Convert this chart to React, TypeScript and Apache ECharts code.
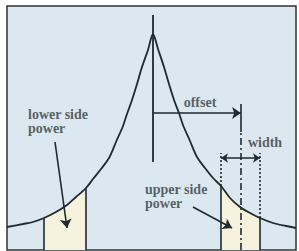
import React, { useEffect, useRef } from "react";
import * as echarts from "echarts";

// Curve (frequency offset from carrier, power height)
const curveX = [-146, -130, -120, -109, -97, -86, -77, -67, -60, -52, -44, -37, -30, -26, -21, -16, -11, -5, 0, 5, 11, 16, 21, 26, 30, 37, 44, 52, 60, 68, 77, 87, 97, 107, 120, 133, 143];
const curveY = [23, 26, 28, 32, 38, 45, 53, 62, 71, 81, 92, 108, 124, 136, 150, 166, 183, 200, 216, 201, 183, 166, 150, 137, 125, 109, 93, 82, 72, 64, 52, 43, 37, 32, 27, 24, 22];

const lowerBand = [-109, -67];
const upperBand = [68, 107];
const offsetValue = 88;
const centerLine = [88, 235];
const offsetArrowY = 137;
const widthArrowY = 92;
const widthMarkTop = 97;
const offsetMarkTop = 146;
const offsetSolidBottom = 118;

const labelNames = ["offset", "width", "lower side\npower", "upper side\npower"];
const labelX = [47, 112, -125, -8];
const labelY = [148, 108, 128.5, 53.5];
const labelAlign = ["center", "center", "left", "left"];

const lowerArrow = [[-98, 108], [-86, 22]];
const upperArrow = [[40, 43], [79, 22]];

const INK = "#1f2a2f";
const TEXT = "#353b3f";
const BG = "#dbe8f0";
const CREAM = "#f6f2de";

const curveAt = (x: number) => curveY[curveX.indexOf(x)];
const pts = curveX.map((x, i) => [x, curveY[i]]);
const band = (b: number[]) => pts.filter((p) => p[0] >= b[0] && p[0] <= b[1]);

export default function App() {
  const ref = useRef<HTMLDivElement>(null);
  useEffect(() => {
    if (!ref.current) return;
    const chart = echarts.init(ref.current, null, { renderer: "svg" });
    const seg = (a: number[], b: number[], type: any, width = 1.6) => ({
      type: "lines",
      coordinateSystem: "cartesian2d",
      silent: true,
      symbol: ["none", "none"],
      lineStyle: { color: INK, width, type, opacity: 1 },
      data: [{ coords: [a, b] }],
      z: 4,
    });
    const arrow = (a: number[], b: number[], size = 8) => ({
      type: "lines",
      coordinateSystem: "cartesian2d",
      silent: true,
      symbol: ["none", "arrow"],
      symbolSize: size,
      lineStyle: { color: INK, width: 1.6, opacity: 1 },
      data: [{ coords: [a, b] }],
      z: 5,
    });
    const shade = (b: number[]) => ({
      type: "line",
      data: band(b),
      symbol: "none",
      smooth: 0.3,
      lineStyle: { width: 0 },
      areaStyle: { color: CREAM, opacity: 1 },
      z: 1,
    });
    chart.setOption({
      animation: false,
      grid: {
        left: 7,
        right: 3,
        top: 6,
        bottom: 1,
        show: true,
        backgroundColor: BG,
        borderColor: "#2a3438",
        borderWidth: 1.5,
      },
      xAxis: {
        type: "value",
        min: -146,
        max: 143,
        show: false,
      },
      yAxis: {
        type: "value",
        min: 0,
        max: 244,
        show: false,
      },
      series: [
        shade(lowerBand),
        shade(upperBand),
        {
          type: "line",
          data: pts,
          symbol: "none",
          smooth: 0.3,
          lineStyle: { color: INK, width: 1.8 },
          z: 3,
        },
        seg([0, centerLine[0]], [0, centerLine[1]], "solid", 1.8),
        seg([lowerBand[0], 0], [lowerBand[0], curveAt(lowerBand[0])], "solid"),
        seg([lowerBand[1], 0], [lowerBand[1], curveAt(lowerBand[1])], "solid"),
        seg([upperBand[0], 0], [upperBand[0], curveAt(upperBand[0])], "solid"),
        seg([upperBand[1], 0], [upperBand[1], curveAt(upperBand[1])], "solid"),
        seg([upperBand[0], curveAt(upperBand[0])], [upperBand[0], widthMarkTop], [2, 2]),
        seg([upperBand[1], curveAt(upperBand[1])], [upperBand[1], widthMarkTop], [2, 2]),
        seg([offsetValue, 0], [offsetValue, offsetSolidBottom], [7, 3, 2, 3]),
        seg([offsetValue, offsetSolidBottom], [offsetValue, offsetMarkTop], "solid"),
        arrow([0, offsetArrowY], [offsetValue, offsetArrowY], 9),
        arrow([offsetValue, widthArrowY], [upperBand[0], widthArrowY], 7),
        arrow([offsetValue, widthArrowY], [upperBand[1], widthArrowY], 7),
        arrow(lowerArrow[0], lowerArrow[1], 9),
        arrow(upperArrow[0], upperArrow[1], 9),
        {
          type: "scatter",
          symbolSize: 0,
          silent: true,
          z: 6,
          data: labelNames.map((n, i) => ({
            name: n,
            value: [labelX[i], labelY[i]],
            label: { align: labelAlign[i] },
          })),
          label: {
            show: true,
            position: "inside",
            formatter: (p: any) => p.name,
            color: TEXT,
            fontFamily: "Liberation Serif",
            fontWeight: "bold",
            fontSize: 14,
            lineHeight: 14,
            verticalAlign: "middle",
          },
        },
      ],
    });
    return () => chart.dispose();
  }, []);
  return (
    <div
      ref={ref}
      style={{ position: "absolute", left: 0, top: 0, width: 299, height: 251, background: "#ffffff" }}
    />
  );
}
